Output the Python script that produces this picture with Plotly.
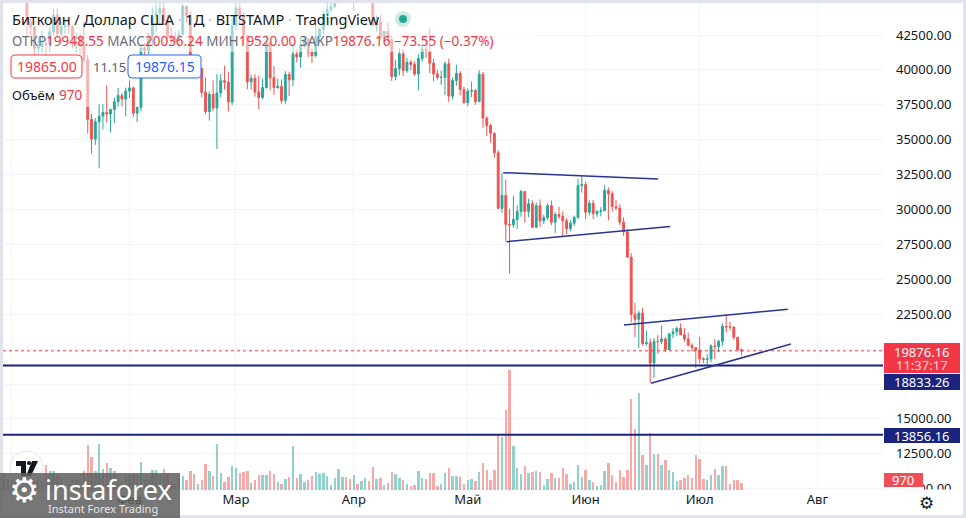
import pandas as pd
import plotly.graph_objects as go

# ---------------------------
# Data (BTC/USD daily, Bitstamp)
# ---------------------------

START = "2021-12-30"

OPEN = [
    46460, 47140,
    # Jan
    46220, 47720, 47300, 46440, 45830, 43430, 43080, 41550, 41680, 41860, 41830, 42740, 43920, 42590, 43100, 43180,
    43110, 42250, 42380, 41710, 40710, 36460, 35050, 36290, 36690, 36950, 36840, 37160, 37720, 38170, 37910,
    # Feb
    38480, 38710, 36900, 37300, 41570, 41390, 42400, 43830, 44050, 44390, 43540, 42400, 42200, 42070, 42550, 44560,
    43900, 40540, 40000, 40100, 38390, 37020, 38260, 37270, 38350, 39230, 39120, 37700,
    # Mar
    43180, 44420, 43910, 42460, 39140, 39400, 38420, 38020, 38740, 41960, 39430, 38730, 38820, 37800, 39670, 39290,
    41140, 40930, 41770, 42200, 41280, 41020, 42370, 42900, 43980, 44320, 44530, 46830, 47120, 47460, 47070,
    # Apr
    45520, 46300, 45830, 46420, 46620, 45500, 43190, 43450, 42270, 42760, 42160, 39530, 40090, 41150, 39950, 40540,
    40390, 39700, 40810, 41500, 41360, 40480, 39710, 39460, 39470, 40440, 38120, 39240, 39740, 38600,
    # May
    37640, 38470, 38520, 37730, 39690, 36550, 36010, 35470, 34060, 30080, 31010, 28940, 28900, 29280, 29860, 31290,
    29860, 30420, 28720, 30280, 29190, 29430, 30280, 29090, 29640, 29510, 29190, 28620, 29020, 29440, 31720,
    # Jun
    31790, 29800, 30450, 29700, 29860, 29910, 31370, 31130, 30200, 30110, 29090, 28400, 26580, 22490, 22130, 22580,
    20390, 20460, 19000, 20560, 20540, 20720, 19970, 21090, 21230, 21490, 21030, 20720, 20270, 20100,
    # Jul
    19930, 19300, 19250, 19300, 20230, 20190, 20560, 21630, 21590, 21580, 20850, 19948.55,
]

HIGH = [
    47900, 48550,
    47950, 47980, 47560, 47500, 47070, 43750, 43140, 42300, 42790, 42250, 43100, 44350, 44420, 43460, 43780, 43480,
    43180, 42680, 42570, 43500, 41100, 36840, 36530, 37530, 37540, 38910, 37220, 38000, 38710, 38350, 38740,
    39240, 38820, 37380, 41730, 41940, 42650, 44480, 45480, 44800, 45810, 43920, 43000, 42760, 42850, 44720, 44570,
    44200, 40970, 40450, 40130, 39470, 38450, 39250, 39700, 39700, 40300, 39850, 43740,
    44950, 45400, 44100, 42500, 39650, 39680, 39570, 39380, 42500, 42020, 40270, 39370, 39310, 39900, 39870, 41720,
    41450, 42330, 42400, 42290, 41530, 43350, 43000, 44220, 45100, 44800, 46930, 48200, 48100, 47700, 47600,
    46690, 47200, 47420, 46880, 47150, 45500, 43900, 43950, 42800, 43420, 42420, 40690, 41550, 41500, 40870, 40700,
    40610, 41120, 41760, 42200, 42980, 40800, 39990, 39940, 40600, 40800, 39450, 40370, 39920, 38800,
    38670, 39150, 38630, 39980, 39840, 36650, 36130, 35500, 34240, 32640, 32150, 30070, 30950, 30300, 31400, 31300,
    30770, 30650, 30520, 30720, 29620, 30440, 30640, 29820, 30200, 29860, 29360, 29230, 29560, 32200, 32380,
    31980, 30650, 30680, 29950, 30170, 31750, 31580, 31330, 30680, 30380, 29440, 28570, 26880, 23330, 22750, 22950,
    21330, 20760, 20790, 21000, 21700, 20860, 21170, 21500, 21610, 21860, 21510, 21180, 20420, 20150,
    20860, 19430, 19640, 20340, 20730, 20660, 21840, 22500, 21950, 21600, 20860, 20036.24,
]

LOW = [
    46060, 45680,
    46220, 46680, 45700, 45510, 42500, 42480, 40610, 40500, 41220, 39650, 41270, 42460, 42320, 41750, 42600, 42600,
    41550, 41260, 41160, 40550, 35440, 34010, 34630, 32950, 35730, 36240, 35520, 36200, 37370, 37370, 36660,
    38000, 36630, 36250, 37040, 40990, 41130, 41680, 42700, 43170, 43210, 42020, 41800, 41900, 41570, 42470, 43350,
    40090, 39460, 39630, 38030, 36850, 36370, 37050, 34330, 38020, 38600, 37020, 37470,
    42850, 43330, 41840, 38620, 38590, 38090, 37180, 37880, 38660, 38540, 38230, 38660, 37600, 37570, 38120, 38850,
    40550, 40140, 41520, 40920, 40510, 40900, 41850, 42580, 43600, 44100, 44430, 46680, 46940, 46560, 45230,
    44200, 45600, 45530, 45120, 45370, 43120, 42750, 42140, 42140, 42000, 39210, 39260, 39590, 39570, 39790, 39990,
    39570, 38540, 40570, 40870, 39780, 39190, 39300, 38930, 38200, 37700, 37880, 38870, 38180, 37600,
    37390, 38050, 37500, 37680, 35860, 35260, 34790, 33720, 30050, 29760, 27700, 25400, 28700, 28620, 29480, 29080,
    29460, 28680, 28690, 28760, 28960, 29240, 28880, 28310, 29320, 28020, 28230, 28450, 28810, 29310, 31200,
    29320, 29590, 29310, 29470, 29500, 29880, 29220, 29850, 29960, 28880, 28100, 26560, 21930, 20850, 20080, 20250,
    20260, 17580, 17940, 19640, 20360, 19770, 19900, 20780, 20930, 20990, 20520, 20190, 19840, 18630,
    18970, 19000, 18780, 19050, 19300, 19780, 20250, 21190, 21330, 20650, 19870, 19520.00,
]

CLOSE = [
    47140, 46220,
    47720, 47300, 46440, 45830, 43430, 43080, 41550, 41680, 41860, 41830, 42740, 43920, 42590, 43100, 43180, 43110,
    42250, 42380, 41710, 40710, 36460, 35050, 36290, 36690, 36950, 36840, 37160, 37720, 38170, 37910, 38480,
    38710, 36900, 37300, 41570, 41390, 42400, 43830, 44050, 44390, 43540, 42400, 42200, 42070, 42550, 44560, 43900,
    40540, 40000, 40100, 38390, 37020, 38260, 37270, 38350, 39230, 39120, 37700, 43180,
    44420, 43910, 42460, 39140, 39400, 38420, 38020, 38740, 41960, 39430, 38730, 38820, 37800, 39670, 39290, 41140,
    40930, 41770, 42200, 41280, 41020, 42370, 42900, 43980, 44320, 44530, 46830, 47120, 47460, 47070, 45520,
    46300, 45830, 46420, 46620, 45500, 43190, 43450, 42270, 42760, 42160, 39530, 40090, 41150, 39950, 40540, 40390,
    39700, 40810, 41500, 41360, 40480, 39710, 39460, 39470, 40440, 38120, 39240, 39740, 38600, 37640,
    38470, 38520, 37730, 39690, 36550, 36010, 35470, 34060, 30080, 31010, 28940, 28900, 29280, 29860, 31290, 29860,
    30420, 28720, 30280, 29190, 29430, 30280, 29090, 29640, 29510, 29190, 28620, 29020, 29440, 31720, 31790,
    29800, 30450, 29700, 29860, 29910, 31370, 31130, 30200, 30110, 29090, 28400, 26580, 22490, 22130, 22580, 20390,
    20460, 19000, 20560, 20540, 20720, 19970, 21090, 21230, 21490, 21030, 20720, 20270, 20100, 19930,
    19300, 19250, 19300, 20230, 20190, 20560, 21630, 21590, 21580, 20850, 19950, 19876.16,
]

VOLUME = [
    2210, 1560,
    1300, 1040, 1560, 1820, 2860, 1820, 2600, 1560, 1040, 3250, 2470, 2470, 1950, 1560, 780, 780,
    1300, 1430, 1560, 2470, 5850, 4290, 2470, 5980, 2730, 3510, 2860, 2470, 1300, 1040, 1820,
    1950, 2080, 1950, 3640, 1300, 1300, 2600, 2600, 1950, 2730, 2210, 1040, 910, 1560, 1820, 1300,
    2470, 2080, 780, 1300, 3380, 2470, 1820, 5980, 2210, 1040, 1690, 3120,
    2860, 2210, 2340, 2470, 910, 1300, 1950, 1950, 1950, 2470, 2080, 1040, 780, 1430, 1690, 5720,
    1560, 2080, 1040, 1300, 1820, 2340, 2080, 2210, 1820, 650, 1560, 2730, 1690, 1690, 1430,
    1950, 780, 1170, 1560, 1170, 2990, 1430, 1560, 650, 910, 2340, 2080, 1560, 1300, 780, 520,
    650, 2470, 1560, 1430, 2210, 2210, 520, 780, 2210, 2860, 1820, 1820, 1690, 780,
    1300, 1430, 1170, 2340, 3510, 2600, 1300, 2600, 7150, 6890, 10400, 15600, 5720, 2860, 2080, 3120,
    2210, 2340, 2470, 2340, 650, 1430, 2210, 1560, 1560, 2860, 2080, 780, 1040, 3250, 1690,
    2600, 1300, 1040, 520, 650, 2470, 3510, 1950, 1040, 2600, 1690, 2600, 11830, 7930, 12610, 4550,
    3250, 7410, 4680, 4680, 3250, 3900, 2600, 2340, 1170, 1300, 1560, 1950, 1560, 4550,
    4030, 1430, 1300, 1950, 2730, 1950, 3120, 3120, 780, 1300, 1300, 970,
]

MONTH_TICKS = ["2022-01-01", "2022-02-01", "2022-03-01", "2022-04-01",
               "2022-05-01", "2022-06-01", "2022-07-01", "2022-08-01"]
MONTH_LABELS = ["2022", "Фев", "Мар", "Апр", "Май", "Июн", "Июл", "Авг"]

PRICE_TICKS = [10000, 12500, 15000, 17500, 20000, 22500, 25000, 27500,
               30000, 32500, 35000, 37500, 40000, 42500]
# 17500 and 20000 sit behind the price tags on the scale
PRICE_LABELS = ["10000.00", "12500.00", "15000.00", "", "", "22500.00", "25000.00",
                "27500.00", "30000.00", "32500.00", "35000.00", "37500.00", "40000.00", "42500.00"]

LEVELS = [18833.26, 13856.16]
LAST_PRICE = 19876.16

# drawn trend lines: (start date, start price, end date, end price)
TREND_LINES = [
    ("2022-05-10 08:00", 32640, "2022-06-20 02:00", 32180),
    ("2022-05-11 05:00", 27690, "2022-06-23 05:00", 28790),
    ("2022-06-11 02:00", 21730, "2022-07-24 05:00", 22850),
    ("2022-06-18 05:00", 17550, "2022-07-25 00:00", 20360),
]

UP = "#26a69a"
DOWN = "#ef5350"
RED = "#f23645"
NAVY = "#1a237e"
FONT = "Noto Sans"

# ---------------------------
# Geometry helpers (pixels -> paper)
# ---------------------------

L, R, T, B = 3, 883, 3, 490


def px(p):
    return (p - L) / (R - L)


def py(p):
    return (B - p) / (B - T)


def rrect(x0, y0, x1, y1, r):
    pts = [
        ("M", x0 + r, y0), ("L", x1 - r, y0), ("Q", x1, y0, x1, y0 + r),
        ("L", x1, y1 - r), ("Q", x1, y1, x1 - r, y1), ("L", x0 + r, y1),
        ("Q", x0, y1, x0, y1 - r), ("L", x0, y0 + r), ("Q", x0, y0, x0 + r, y0),
    ]
    out = []
    for p in pts:
        cmd, vals = p[0], p[1:]
        coords = []
        for i in range(0, len(vals), 2):
            coords.append(f"{px(vals[i]):.5f},{py(vals[i + 1]):.5f}")
        out.append(cmd + " ".join(coords))
    return " ".join(out) + " Z"


dates = pd.date_range(START, periods=len(CLOSE), freq="D")
vol_colors = ["rgba(38,166,154,0.5)" if c >= o else "rgba(239,83,80,0.5)"
              for o, c in zip(OPEN, CLOSE)]

fig = go.Figure()

fig.add_trace(go.Bar(
    x=dates, y=VOLUME, yaxis="y2",
    marker=dict(color=vol_colors, line=dict(width=0)),
    width=0.62 * 86400000, hoverinfo="skip", showlegend=False
))

fig.add_trace(go.Candlestick(
    x=dates, open=OPEN, high=HIGH, low=LOW, close=CLOSE,
    increasing=dict(line=dict(color=UP, width=1), fillcolor=UP),
    decreasing=dict(line=dict(color=DOWN, width=1), fillcolor=DOWN),
    whiskerwidth=0, showlegend=False
))

shapes = []

# white panel
shapes.append(dict(type="rect", xref="paper", yref="paper", layer="below",
                   x0=px(3), x1=px(963), y0=py(3), y1=py(515),
                   fillcolor="white", line=dict(width=0)))

# horizontal levels
for lv in LEVELS:
    shapes.append(dict(type="line", xref="paper", yref="y", x0=0, x1=1, y0=lv, y1=lv,
                       line=dict(color=NAVY, width=2)))

# last price dotted line
shapes.append(dict(type="line", xref="paper", yref="y", x0=0, x1=1,
                   y0=LAST_PRICE, y1=LAST_PRICE, line=dict(color=RED, width=1, dash="dot")))

# trend lines
for d0, p0, d1, p1 in TREND_LINES:
    shapes.append(dict(type="line", xref="x", yref="y", x0=d0, y0=p0, x1=d1, y1=p1,
                       line=dict(color="#283593", width=1.5)))

# legend backdrop fading
shapes.append(dict(type="rect", xref="paper", yref="paper", x0=px(3), x1=px(535),
                   y0=py(3), y1=py(52), fillcolor="rgba(255,255,255,0.55)", line=dict(width=0)))
shapes.append(dict(type="rect", xref="paper", yref="paper", x0=px(3), x1=px(95),
                   y0=py(52), y1=py(107), fillcolor="rgba(255,255,255,0.55)", line=dict(width=0)))

# price boxes in the legend
shapes.append(dict(type="path", xref="paper", yref="paper", path=rrect(11, 55, 82, 78, 4),
                   fillcolor="white", line=dict(color=RED, width=1)))
shapes.append(dict(type="path", xref="paper", yref="paper", path=rrect(128, 55, 201, 78, 4),
                   fillcolor="white", line=dict(color="#2962ff", width=1)))

# status dot
shapes.append(dict(type="circle", xref="paper", yref="paper",
                   x0=px(395), x1=px(411), y0=py(11), y1=py(27),
                   fillcolor="rgba(34,171,148,0.22)", line=dict(width=0)))
shapes.append(dict(type="circle", xref="paper", yref="paper",
                   x0=px(399), x1=px(407), y0=py(15), y1=py(23),
                   fillcolor="#22ab94", line=dict(width=0)))

# price scale is clipped at the pane bottom
shapes.append(dict(type="rect", xref="paper", yref="paper", x0=px(884), x1=px(924),
                   y0=py(487), y1=py(498), fillcolor="white", line=dict(width=0)))
shapes.append(dict(type="rect", xref="paper", yref="paper", x0=px(924), x1=px(962),
                   y0=py(489.5), y1=py(498), fillcolor="white", line=dict(width=0)))

# axis tags
shapes.append(dict(type="rect", xref="paper", yref="paper", x0=px(884), x1=px(960),
                   y0=py(343), y1=py(373), fillcolor=RED, line=dict(width=0)))
shapes.append(dict(type="rect", xref="paper", yref="paper", x0=px(884), x1=px(960),
                   y0=py(374), y1=py(390), fillcolor=NAVY, line=dict(width=0)))
shapes.append(dict(type="rect", xref="paper", yref="paper", x0=px(884), x1=px(960),
                   y0=py(428), y1=py(443), fillcolor=NAVY, line=dict(width=0)))
shapes.append(dict(type="rect", xref="paper", yref="paper", x0=px(884), x1=px(923),
                   y0=py(473), y1=py(487), fillcolor="#f04e57", line=dict(width=0)))

# TradingView logo badge
shapes.append(dict(type="circle", xref="paper", yref="paper",
                   x0=px(10), x1=px(43), y0=py(451), y1=py(484),
                   fillcolor="white", line=dict(color="#e0e3eb", width=1)))
shapes.append(dict(type="rect", xref="paper", yref="paper", x0=px(16), x1=px(26),
                   y0=py(461), y1=py(466), fillcolor="#131722", line=dict(width=0)))
shapes.append(dict(type="rect", xref="paper", yref="paper", x0=px(21), x1=px(26),
                   y0=py(461), y1=py(476), fillcolor="#131722", line=dict(width=0)))
shapes.append(dict(type="circle", xref="paper", yref="paper",
                   x0=px(27), x1=px(31), y0=py(461), y1=py(465),
                   fillcolor="#131722", line=dict(width=0)))
shapes.append(dict(type="path", xref="paper", yref="paper",
                   path=f"M{px(32)},{py(461)} L{px(38)},{py(461)} L{px(31)},{py(476)} L{px(26)},{py(476)} Z",
                   fillcolor="#131722", line=dict(width=0)))

# instaforex watermark
shapes.append(dict(type="rect", xref="paper", yref="paper", x0=px(0), x1=px(180),
                   y0=py(473), y1=py(518), fillcolor="rgba(95,95,95,0.86)", line=dict(width=0)))

annotations = []


def note(x, y, text, size=14, color="#131722", anchor="left", family=FONT):
    annotations.append(dict(xref="paper", yref="paper", x=px(x), y=py(y), text=text,
                            showarrow=False, xanchor=anchor, yanchor="middle",
                            font=dict(family=family, size=size, color=color)))


SEP = "<span style='color:#b2b5be'> · </span>"
note(10, 19, "Биткоин / Доллар США" + SEP + "1Д" + SEP + "BITSTAMP" + SEP + "TradingView", size=14.5)

G = "#6a6d78"
ohlc = (f"<span style='color:{G}'>ОТКР</span>19948.55 "
        f"<span style='color:{G}'>МАКС</span>20036.24 "
        f"<span style='color:{G}'>МИН</span>19520.00 "
        f"<span style='color:{G}'>ЗАКР</span>19876.16 −73.55 (−0.37%)")
note(10, 41, ohlc, size=13.5, color=RED)

note(46.5, 66.5, "19865.00", size=14, color=RED, anchor="center")
note(109, 67, "11.15", size=13, color="#5d606b", anchor="center")
note(164.5, 66.5, "19876.15", size=14, color="#2962ff", anchor="center")

note(10, 95, "Объём", size=13)
note(57, 95, "970", size=13.5, color=RED)

note(922, 352, "19876.16", size=13, color="white", anchor="center")
note(922, 365, "11:37:17", size=13, color="rgba(255,255,255,0.8)", anchor="center")
note(922, 382, "18833.26", size=13, color="white", anchor="center")
note(922, 435.5, "13856.16", size=13, color="white", anchor="center")
note(903.5, 480, "970", size=13, color="white", anchor="center")

note(926, 503, "⚙", size=17, family="DejaVu Sans", anchor="center")

note(24, 490, "⚙", size=34, color="white", family="DejaVu Sans", anchor="center")
note(43, 489, "instaforex", size=27, color="white", family="Noto Sans")
note(46, 508, "Instant Forex Trading", size=11, color="rgba(255,255,255,0.85)")

fig.update_layout(
    width=966, height=518,
    margin=dict(l=L, r=966 - R, t=T, b=518 - B),
    paper_bgcolor="#e0e3eb",
    plot_bgcolor="white",
    font=dict(family=FONT, size=13, color="#131722"),
    showlegend=False,
    bargap=0,
    shapes=shapes,
    annotations=annotations,
    xaxis=dict(
        type="date",
        range=["2021-12-29 17:00", "2022-08-18 06:00"],
        tickvals=MONTH_TICKS, ticktext=MONTH_LABELS,
        showgrid=True, gridcolor="#f0f3fa", gridwidth=1,
        zeroline=False, showline=False, ticks="",
        rangeslider=dict(visible=False),
        tickfont=dict(size=13, color="#131722"),
        fixedrange=True,
    ),
    yaxis=dict(
        side="right",
        range=[9907, 44792],
        tickvals=PRICE_TICKS, ticktext=PRICE_LABELS,
        showgrid=True, gridcolor="#f0f3fa", gridwidth=1,
        zeroline=False, showline=False, ticks="",
        ticklabelstandoff=12,
        tickfont=dict(size=13, color="#131722"),
        fixedrange=True,
    ),
    yaxis2=dict(
        overlaying="y", range=[0, 63310], visible=False, fixedrange=True,
    ),
)

# the page's default body margin would push the figure off by 8px
fig.write_html("out.html", config={"displayModeBar": False},
               post_script="document.body.style.margin='0';")
